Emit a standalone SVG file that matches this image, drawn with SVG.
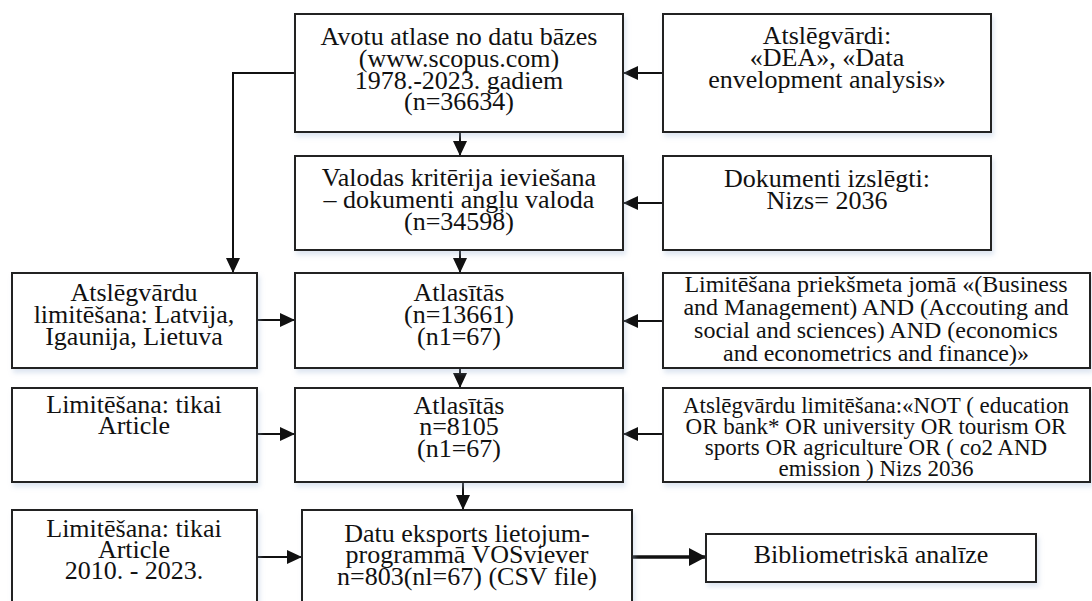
<svg xmlns="http://www.w3.org/2000/svg" width="1092" height="601" viewBox="0 0 1092 601">
<defs>
<filter id="sh" x="-5%" y="-5%" width="112%" height="120%">
<feDropShadow dx="2" dy="4" stdDeviation="2.5" flood-color="#9fb6d6" flood-opacity="0.35"/>
</filter>
<marker id="ah" markerWidth="15" markerHeight="14" refX="15" refY="7" orient="auto" markerUnits="userSpaceOnUse">
<path d="M0,0 L15,7 L0,14 Z" fill="#111"/>
</marker>
<marker id="ah2" markerWidth="17" markerHeight="18" refX="17" refY="9" orient="auto" markerUnits="userSpaceOnUse">
<path d="M0,0 L17,9 L0,18 Z" fill="#111"/>
</marker>
</defs>
<style>
.box{fill:#fff;stroke:#222;stroke-width:2;filter:url(#sh)}
.t{font-family:"Liberation Serif","Times New Roman",serif;font-size:26px;fill:#111;text-anchor:middle}
.s{font-size:24px}
.xs{font-size:23px}
.c{fill:none;stroke:#111;stroke-width:2;marker-end:url(#ah)}
.ct{fill:none;stroke:#111;stroke-width:3.5;marker-end:url(#ah2)}
</style>
<rect width="1092" height="601" fill="#fff"/>

<g id="connectors">
<path class="c" d="M663,73 H623"/>
<path class="c" d="M460,132 V156"/>
<path class="c" d="M663,203 H623"/>
<path class="c" d="M295,73 H233 V273"/>
<path class="c" d="M460,250 V273"/>
<path class="c" d="M257,320 H295"/>
<path class="c" d="M663,321 H623"/>
<path class="c" d="M460,368 V388"/>
<path class="c" d="M257,434 H295"/>
<path class="c" d="M663,434 H623"/>
<path class="c" d="M463,482 V510"/>
<path class="c" d="M257,557 H302"/>
<path class="ct" d="M632,557 H706"/>
</g>

<g id="n1">
<rect class="box" x="295" y="14" width="328" height="118"/>
<text class="t" x="459" y="45">Avotu atlase no datu bāzes<tspan x="459" dy="22">(www.scopus.com)</tspan><tspan x="459" dy="22">1978.-2023. gadiem</tspan><tspan x="459" dy="21">(n=36634)</tspan></text>
</g>
<g id="n2">
<rect class="box" x="663" y="14" width="328" height="118"/>
<text class="t" x="827" y="44">Atslēgvārdi:<tspan x="827" dy="22">«DEA», «Data</tspan><tspan x="827" dy="22">envelopment analysis»</tspan></text>
</g>
<g id="n3">
<rect class="box" x="295" y="156" width="328" height="94"/>
<text class="t" x="459" y="186">Valodas kritērija ieviešana<tspan x="459" dy="22">– dokumenti angļu valoda</tspan><tspan x="459" dy="22">(n=34598)</tspan></text>
</g>
<g id="n4">
<rect class="box" x="663" y="156" width="328" height="94"/>
<text class="t" x="827" y="187">Dokumenti izslēgti:<tspan x="827" dy="22">Nizs= 2036</tspan></text>
</g>
<g id="n5">
<rect class="box" x="12" y="273" width="245" height="95"/>
<text class="t" x="134" y="301">Atslēgvārdu<tspan x="134" dy="22">limitēšana: Latvija,</tspan><tspan x="134" dy="22">Igaunija, Lietuva</tspan></text>
</g>
<g id="n6">
<rect class="box" x="295" y="273" width="328" height="95"/>
<text class="t" x="459" y="301">Atlasītās<tspan x="459" dy="22">(n=13661)</tspan><tspan x="459" dy="22">(n1=67)</tspan></text>
</g>
<g id="n7">
<rect class="box" x="663" y="273" width="427" height="95"/>
<text class="t s" x="876" y="292">Limitēšana priekšmeta jomā «(Business<tspan x="876" dy="23">and Management) AND (Accouting and</tspan><tspan x="876" dy="23">social and sciences) AND (economics</tspan><tspan x="876" dy="23">and econometrics and finance)»</tspan></text>
</g>
<g id="n8">
<rect class="box" x="12" y="388" width="245" height="94"/>
<text class="t" x="134" y="413">Limitēšana: tikai<tspan x="134" dy="21">Article</tspan></text>
</g>
<g id="n9">
<rect class="box" x="295" y="388" width="328" height="94"/>
<text class="t" x="459" y="414">Atlasītās<tspan x="459" dy="21">n=8105</tspan><tspan x="459" dy="22">(n1=67)</tspan></text>
</g>
<g id="n10">
<rect class="box" x="663" y="388" width="427" height="94"/>
<text class="t xs" x="876" y="413">Atslēgvārdu limitēšana:«NOT ( education<tspan x="876" dy="21">OR bank* OR university OR tourism OR</tspan><tspan x="876" dy="21">sports OR agriculture OR ( co2 AND</tspan><tspan x="876" dy="21">emission ) Nizs 2036</tspan></text>
</g>
<g id="n11">
<rect class="box" x="12" y="510" width="245" height="100"/>
<text class="t" x="134" y="537">Limitēšana: tikai<tspan x="134" dy="21">Article</tspan><tspan x="134" dy="21">2010. - 2023.</tspan></text>
</g>
<g id="n12">
<rect class="box" x="302" y="510" width="330" height="100"/>
<text class="t" x="467" y="542">Datu eksports lietojum-<tspan x="467" dy="21">programmā VOSviever</tspan><tspan x="467" dy="22">n=803(nl=67) (CSV file)</tspan></text>
</g>
<g id="n13">
<rect class="box" x="706" y="534" width="330" height="48"/>
<text class="t" x="871" y="563">Bibliometriskā analīze</text>
</g>
</svg>
